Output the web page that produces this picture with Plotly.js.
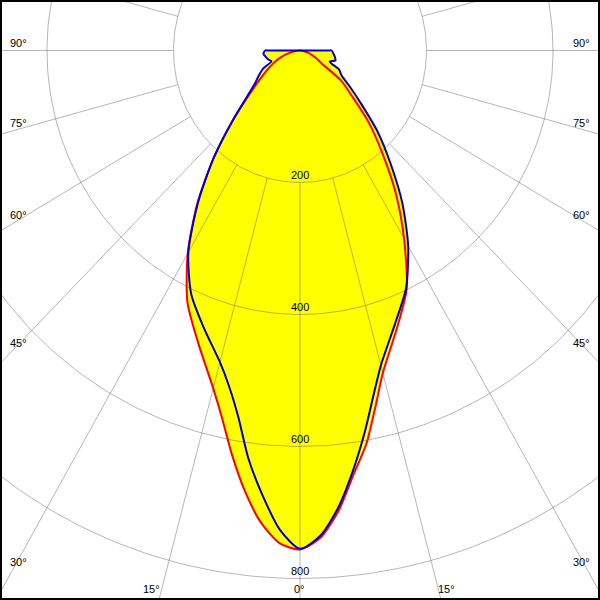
<!DOCTYPE html>
<html><head><meta charset="utf-8">
<script src="https://cdn.plot.ly/plotly-3.0.1.min.js"></script>
<style>html,body{margin:0;padding:0;background:#fff}#chart{width:600px;height:600px}</style>
</head><body><div id="chart"></div>
<script>
// Luminous intensity (cd) at gamma angles, for each half plane
const angles    = [0,2.5,5,7.5,10,12.5,15,20,25,30,35,40,45,50,55,60,65,70,75,80,85,90];
const redLeft   = [756,747,717,672,621,570,530,471,421,355,283,212,151,106,79,61,47,35,23,12,5,2];
const redRight  = [756,739,700,648,605,552,506,448,399,329,264,202,153,107,79,40,29,20,13,7,3,1];
const blueLeft  = [755,727,677,624,563,520,489,446,407,353,281,212,151,110,87,75,64,48,52,55,58,55];
const blueRight = [755,736,695,642,588,536,494,440,397,342,282,222,173,127,97,76,68,50,58,56,53,50];
const ringValues = [200,400,600,800];
const ringLabels = ['200','400','600','800'];
const sideAngleLabels = ['90°','75°','60°','45°','30°'];
const bottomAngleLabels = ['15°','0°','15°'];

const D = Math.PI/180;
function curve(left, right){
  const xs=[], ys=[];
  const n=angles.length;
  for(let i=n-1;i>=0;i--){ xs.push(-left[i]*Math.sin(angles[i]*D)); ys.push(-left[i]*Math.cos(angles[i]*D)); }
  for(let i=1;i<n;i++){ xs.push(right[i]*Math.sin(angles[i]*D)); ys.push(-right[i]*Math.cos(angles[i]*D)); }
  // back along the 90 deg ray through the pole
  const xr=xs[xs.length-1], yr=ys[ys.length-1];
  xs.push(xr*0.9, 0, xs[0]*0.9, xs[0]); ys.push(yr*0.9, 0, ys[0]*0.9, ys[0]);
  return {xs, ys};
}
const red = curve(redLeft, redRight);
const blue = curve(blueLeft, blueRight);

// grid
const gx=[], gy=[];
ringValues.forEach(R=>{
  for(let t=0;t<=360;t+=1){ gx.push(R*Math.sin(t*D)); gy.push(-R*Math.cos(t*D)); }
  gx.push(null); gy.push(null);
});
for(let a=-180;a<180;a+=15){
  gx.push(200*Math.sin(a*D), 2500*Math.sin(a*D), null);
  gy.push(-200*Math.cos(a*D), -2500*Math.cos(a*D), null);
}
const gridColor='rgba(110,110,110,0.5)';
const sm={shape:'spline',smoothing:0.7};
const traces=[
  {x:red.xs,y:red.ys,mode:'lines',fill:'toself',fillcolor:'#ffff00',line:Object.assign({width:0,color:'rgba(0,0,0,0)'},sm),hoverinfo:'skip'},
  {x:blue.xs,y:blue.ys,mode:'lines',fill:'toself',fillcolor:'#ffff00',line:Object.assign({width:0,color:'rgba(0,0,0,0)'},sm),hoverinfo:'skip'},
  {x:gx,y:gy,mode:'lines',line:{width:1,color:gridColor},hoverinfo:'skip'},
  {x:red.xs,y:red.ys,mode:'lines',line:Object.assign({width:2,color:'#ff0000'},sm),hoverinfo:'skip'},
  {x:blue.xs,y:blue.ys,mode:'lines',line:Object.assign({width:2,color:'#0000c8'},sm),hoverinfo:'skip'}
];
const font={family:'Liberation Sans, Arial, sans-serif',size:11,color:'#000'};
const ann=[];
ringValues.forEach((R,i)=>ann.push({x:0,y:-R,xref:'x',yref:'y',text:ringLabels[i],showarrow:false,yshift:7,xanchor:'center',yanchor:'middle',font}));
const sideY=[43,123,215,343,562];
sideAngleLabels.forEach((t,i)=>{
  ann.push({x:18/600,y:1-sideY[i]/600,xref:'paper',yref:'paper',text:t,showarrow:false,xanchor:'center',yanchor:'middle',font});
  ann.push({x:581/600,y:1-sideY[i]/600,xref:'paper',yref:'paper',text:t,showarrow:false,xanchor:'center',yanchor:'middle',font});
});
const bottomX=[151,299,446];
bottomAngleLabels.forEach((t,i)=>ann.push({x:bottomX[i]/600,y:1-589/600,xref:'paper',yref:'paper',text:t,showarrow:false,xanchor:'center',yanchor:'middle',font}));

const layout={
  width:600,height:600,margin:{l:0,r:0,t:0,b:0},
  paper_bgcolor:'#fff',plot_bgcolor:'#fff',showlegend:false,
  xaxis:{range:[-474.3,474.3],visible:false,fixedrange:true},
  yaxis:{range:[-832.6,76.5],visible:false,fixedrange:true},
  annotations:ann,
  shapes:[{type:'rect',xref:'paper',yref:'paper',x0:0,y0:0,x1:1,y1:1,line:{color:'#000',width:4}}]
};
Plotly.newPlot('chart',traces,layout,{staticPlot:true});
</script></body></html>
